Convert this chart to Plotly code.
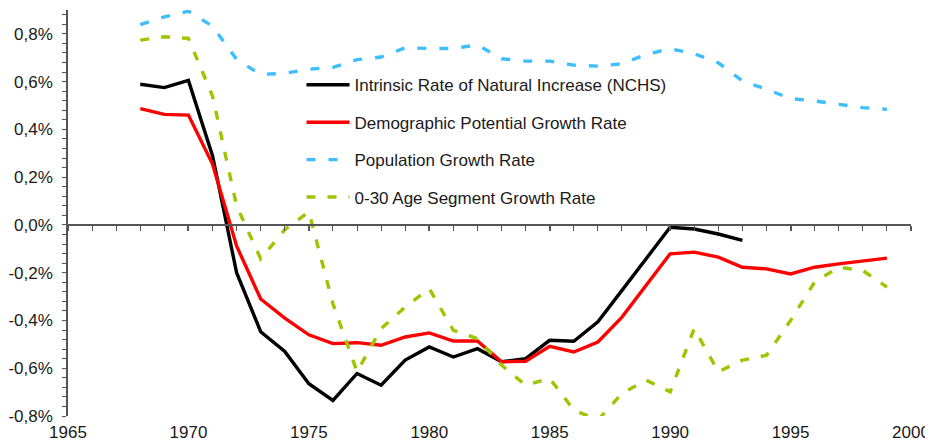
import plotly.graph_objects as go

years = list(range(1968, 2000))

# intrinsic rate of natural increase (NCHS), stops at 1993
intrinsic = [0.589, 0.575, 0.605, 0.29, -0.20, -0.447, -0.53, -0.665, -0.735, -0.622,
             -0.671, -0.566, -0.511, -0.553, -0.518, -0.573, -0.56, -0.483, -0.487, -0.406,
             -0.274, -0.142, -0.01, -0.017, -0.038, -0.065]
demographic = [0.487, 0.463, 0.46, 0.255, -0.088, -0.31, -0.39, -0.46, -0.497, -0.493,
               -0.504, -0.469, -0.452, -0.486, -0.486, -0.573, -0.571, -0.508, -0.532, -0.49,
               -0.386, -0.253, -0.121, -0.114, -0.135, -0.177, -0.184, -0.205, -0.177, -0.163,
               -0.152, -0.139]
population = [0.839, 0.871, 0.895, 0.832, 0.693, 0.63, 0.635, 0.652, 0.66, 0.692,
              0.703, 0.742, 0.739, 0.739, 0.754, 0.696, 0.686, 0.686, 0.669, 0.665,
              0.675, 0.714, 0.738, 0.717, 0.679, 0.603, 0.568, 0.529, 0.519, 0.505,
              0.491, 0.484]
age_0_30 = [0.774, 0.788, 0.781, 0.54, 0.08, -0.142, -0.02, 0.055, -0.33, -0.615,
            -0.434, -0.343, -0.267, -0.441, -0.476, -0.587, -0.671, -0.643, -0.775, -0.817,
            -0.706, -0.65, -0.699, -0.434, -0.615, -0.566, -0.546, -0.40, -0.239, -0.177,
            -0.191, -0.26]

ytick_vals = [-0.8, -0.6, -0.4, -0.2, 0.0, 0.2, 0.4, 0.6, 0.8]
ytick_text = ["-0,8%", "-0,6%", "-0,4%", "-0,2%", "0,0%", "0,2%", "0,4%", "0,6%", "0,8%"]
xtick_vals = [1965, 1970, 1975, 1980, 1985, 1990, 1995, 2000]

ymin, ymax = -0.8, 0.9
zero_pos = (0 - ymin) / (ymax - ymin)
axis_col = "#555555"
font = dict(family="Liberation Sans, Arial, sans-serif", size=17, color="#1a1a1a")

fig = go.Figure()
series = [
    ("Intrinsic Rate of Natural Increase (NCHS)", intrinsic, "black", "solid"),
    ("Demographic Potential Growth Rate", demographic, "#ff0000", "solid"),
    ("Population Growth Rate", population, "#3dbfff", "9px,13px"),
    ("0-30 Age Segment Growth Rate", age_0_30, "#9cc600", "9px,12px"),
]
for name, vals, col, dash in series:
    fig.add_trace(go.Scatter(x=years[:len(vals)], y=vals, mode="lines", name=name,
                             legendgroup=name,
                             line=dict(color=col, width=3.4, dash=dash)))

# invisible copy on the bottom axis so that its year labels get drawn
fig.add_trace(go.Scatter(x=years, y=population, xaxis="x2", mode="lines",
                         line=dict(width=0), opacity=0, showlegend=False,
                         hoverinfo="skip"))

# page body has an 8px margin, so the figure is a bit smaller than the window
fig.update_layout(
    width=925, height=434,
    margin=dict(l=60, r=22, t=2, b=26),
    paper_bgcolor="white", plot_bgcolor="white",
    font=font,
    showlegend=True,
    legend=dict(x=0.277, y=0.859, xanchor="left", yanchor="top",
                bgcolor="rgba(0,0,0,0)", tracegroupgap=12.3, itemwidth=43,
                font=font),
    # axis drawn through y = 0, no labels
    xaxis=dict(range=[1965, 2000], anchor="free", position=zero_pos, automargin=False,
               showgrid=False, zeroline=False, showline=True, linecolor=axis_col,
               linewidth=1.5, tickvals=xtick_vals, ticks="outside", ticklen=5,
               tickcolor=axis_col, tickwidth=1.5, showticklabels=False,
               minor=dict(dtick=1, ticks="outside", ticklen=5, tickcolor=axis_col,
                          tickwidth=1.2)),
    # the year labels along the bottom
    xaxis2=dict(range=[1965, 2000], overlaying="x", anchor="y", side="bottom",
                automargin=False, showgrid=False, zeroline=False, showline=False,
                tickvals=xtick_vals, ticks="", tickfont=font, ticklabelstandoff=4),
    # upper half of the crossing ticks on the zero axis
    xaxis3=dict(range=[1965, 2000], overlaying="x", anchor="free", position=zero_pos,
                automargin=False, showgrid=False, zeroline=False, showline=False,
                tickvals=xtick_vals, ticks="inside", ticklen=5, tickcolor=axis_col,
                tickwidth=1.5, showticklabels=False),
    yaxis=dict(range=[ymin, ymax], automargin=False, showgrid=False, zeroline=False,
               showline=True, linecolor=axis_col, linewidth=1.5, tickvals=ytick_vals,
               ticktext=ytick_text, ticks="outside", ticklen=4, tickcolor=axis_col,
               tickwidth=1.2, tickfont=font, ticklabelstandoff=6,
               minor=dict(tickvals=[round(-0.8 + 0.04 * i, 2) for i in range(43)],
                          ticks="outside", ticklen=4, tickcolor=axis_col, tickwidth=1.2)),
)

fig.write_html("out.html")
